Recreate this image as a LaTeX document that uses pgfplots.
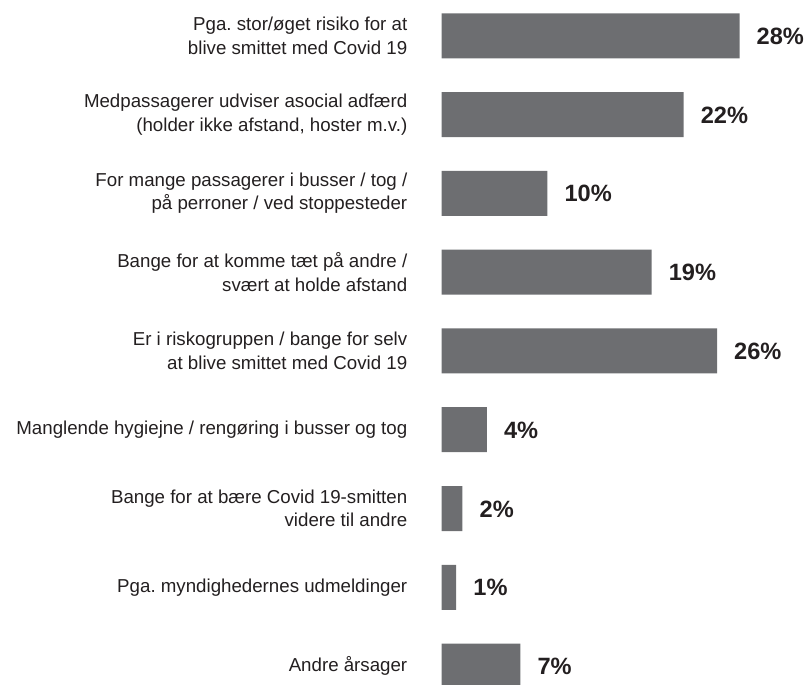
\documentclass[border=0pt]{standalone}
\usepackage{pgfplots}
\pgfplotsset{compat=1.18}
\usepackage{pgfplotstable}
\usepackage{fontspec}
\setmainfont{Liberation Sans}
\frenchspacing
\definecolor{barcol}{HTML}{6D6E71}
\definecolor{txtcol}{HTML}{231F20}
\pgfplotstableread{
idx len pct
0 27.70 28
1 22.50 22
2 9.83 10
3 19.52 19
4 25.61 26
5 4.20 4
6 1.93 2
7 1.35 1
8 7.32 7
}\datatab
\begin{document}
\begin{tikzpicture}
\begin{axis}[
  scale only axis,
  width=369.3pt, height=685pt,
  xmin=0, xmax=34.35,
  ymin=-0.454, ymax=8.239,
  y dir=reverse,
  xbar, bar width=45pt,
  axis line style={draw=none},
  tick style={draw=none},
  xtick=\empty,
  ytick={0,1,2,3,4,5,6,7,8},
  yticklabels={
    {Pga. stor/øget risiko for at\\blive smittet med Covid 19},
    {Medpassagerer udviser asocial adfærd\\(holder ikke afstand, hoster m.v.)},
    {For mange passagerer i busser / tog /\\på perroner / ved stoppesteder},
    {Bange for at komme tæt på andre /\\svært at holde afstand},
    {Er i riskogruppen / bange for selv\\at blive smittet med Covid 19},
    {Manglende hygiejne / rengøring i busser og tog},
    {Bange for at bære Covid 19-smitten\\videre til andre},
    {Pga. myndighedernes udmeldinger},
    {Andre årsager}},
  yticklabel style={align=right, anchor=east, inner sep=0pt, xshift=-30pt,
    font=\fontsize{18.7}{23.3}\selectfont\frenchspacing, text=txtcol},
  point meta=explicit symbolic,
  nodes near coords={\pgfplotspointmeta\%},
  nodes near coords style={anchor=west, inner sep=0pt, xshift=17pt, yshift=-0.5pt,
    font=\bfseries\fontsize{23.6}{24}\selectfont, text=txtcol},
]
\addplot[fill=barcol, draw=none] table[x=len, y=idx, meta=pct] {\datatab};
\coordinate (tl) at (axis cs:-41.09,-0.454);
\coordinate (br) at (axis cs:34.35,8.239);
\end{axis}
\pgfresetboundingbox
\path[use as bounding box] (tl) rectangle (br);
\end{tikzpicture}
\end{document}
